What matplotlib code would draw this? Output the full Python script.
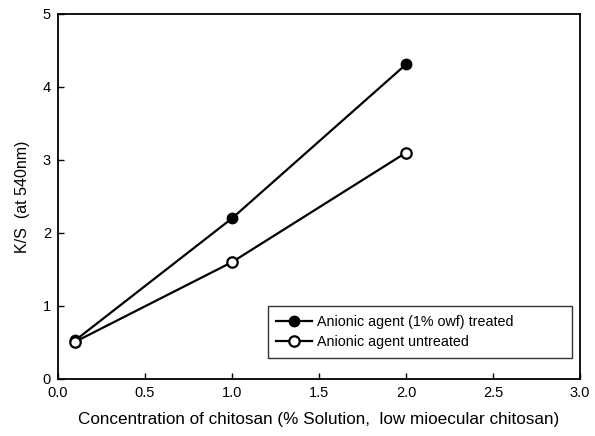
import matplotlib
matplotlib.use("Agg")
import matplotlib.pyplot as plt

plt.rcParams['font.family'] = ['Liberation Sans', 'DejaVu Sans']

x_vals = [0.1, 1.0, 2.0]
treated = [0.53, 2.2, 4.31]
untreated = [0.51, 1.6, 3.1]
labels = ["Anionic agent (1% owf) treated", "Anionic agent untreated"]
x_ticks = [0.0, 0.5, 1.0, 1.5, 2.0, 2.5, 3.0]
y_ticks = [0, 1, 2, 3, 4, 5]

fig = plt.figure(figsize=(5.95, 4.36), dpi=100)
ax = fig.add_axes([0.0975, 0.131, 0.8775, 0.837])

ax.plot(x_vals, treated, color='black', lw=1.6, marker='o', ms=7.5,
        mfc='black', mec='black', label=labels[0])
ax.plot(x_vals, untreated, color='black', lw=1.6, marker='o', ms=7.5,
        mfc='white', mec='black', mew=1.6, label=labels[1])

ax.set_xlim(0, 3)
ax.set_ylim(0, 5)
ax.set_xticks(x_ticks)
ax.set_xticklabels([f"{t:.1f}" for t in x_ticks])
ax.set_yticks(y_ticks)
ax.tick_params(direction='in', length=4, width=1, labelsize=10.5, pad=5)
for s in ax.spines.values():
    s.set_linewidth(1.3)

ax.set_xlabel("Concentration of chitosan (% Solution,  low mioecular chitosan)",
              fontsize=12.3, labelpad=9)
ax.set_ylabel("K/S  (at 540nm)", fontsize=11.5, labelpad=9)

leg = ax.legend(loc='lower left', bbox_to_anchor=(0.402, 0.0575, 0.582, 0.153),
                mode='expand', fontsize=10.3, frameon=True, fancybox=False,
                edgecolor='black', handlelength=2.5, handletextpad=0.3,
                borderpad=0.6, labelspacing=0.45, borderaxespad=0)
leg.get_frame().set_linewidth(1.0)

fig.savefig("out.png", dpi=100)
